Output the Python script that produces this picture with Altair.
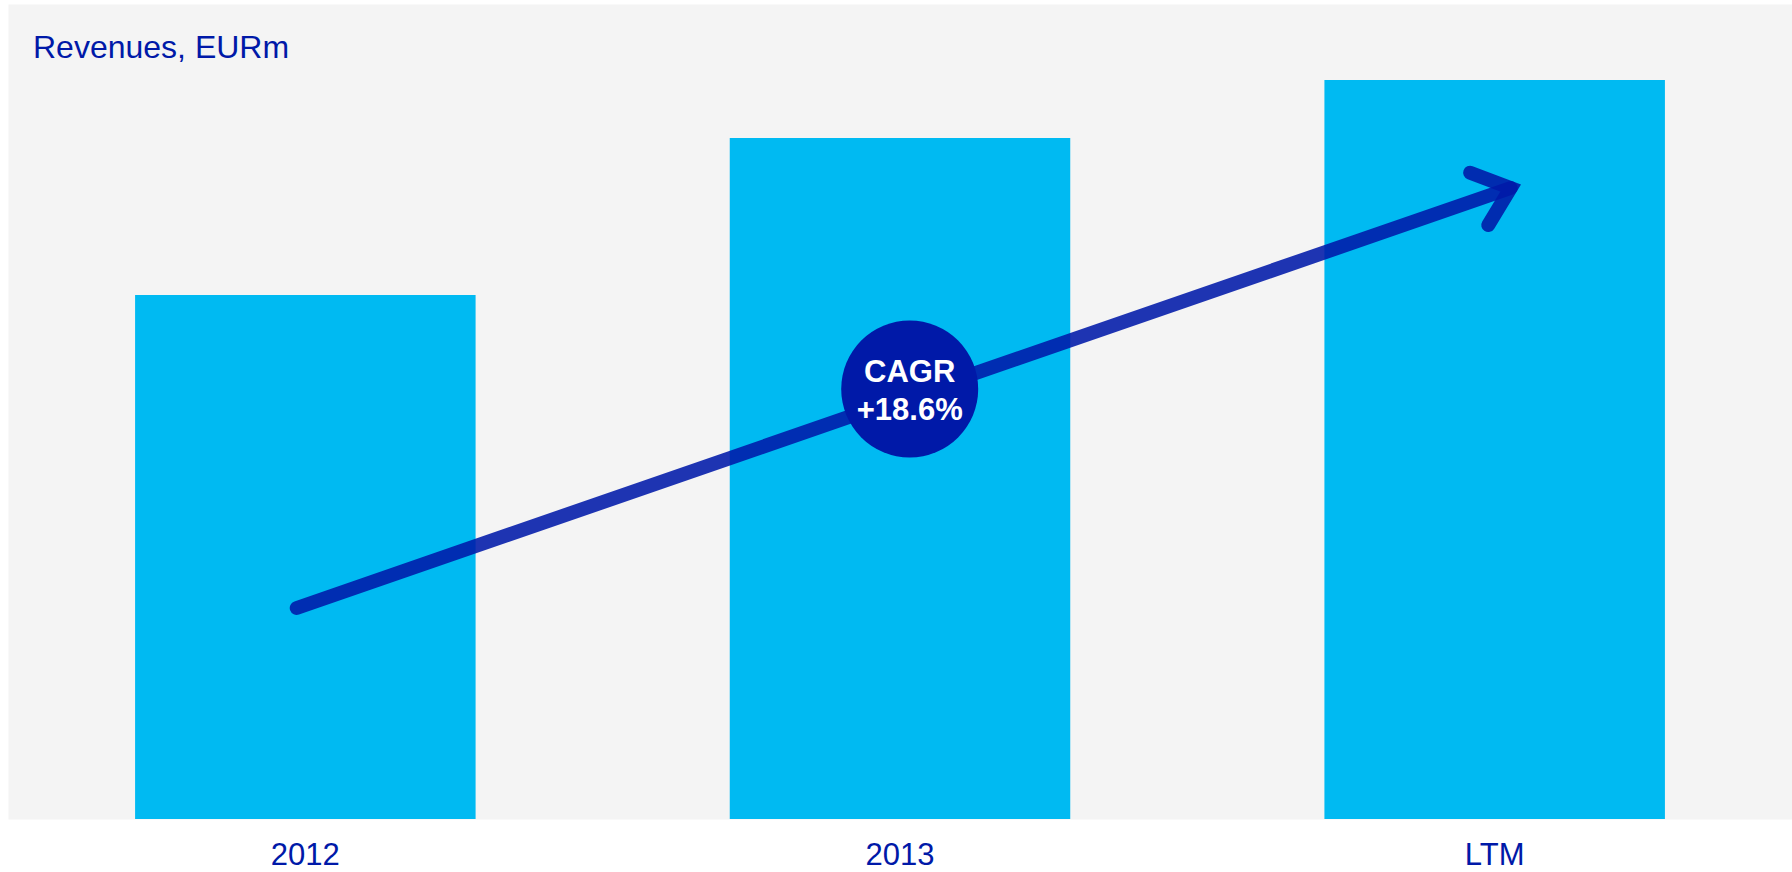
import altair as alt
import pandas as pd

# ---- data ----
categories = ["2012", "2013", "LTM"]
revenues = [52.4, 68.1, 73.9]          # EURm (relative heights)
arrow_from = ["2012"]
arrow_to = ["LTM"]
arrow_start = [21.1]
arrow_end = [63.1]
cagr_cat = ["2013"]
cagr_value = [43.0]
cagr_text = ["CAGR", "+18.6%"]
title_text = ["Revenues, EURm"]

DARK = "#0019A8"
LIGHT = "#00BAF2"
FONT = "Liberation Sans"

bars_df = pd.DataFrame({"cat": categories, "value": revenues})
arrow_df = pd.DataFrame({"cat": arrow_from, "cat2": arrow_to, "y0": arrow_start, "y1": arrow_end})
tip_df = pd.DataFrame({"cat": arrow_to, "y1": arrow_end})
cagr_df = pd.DataFrame({"cat": cagr_cat, "value": cagr_value})
title_df = pd.DataFrame({"t": title_text})

x_scale = alt.Scale(domain=categories, paddingInner=0.4274, paddingOuter=0.2137)
y_scale = alt.Scale(domain=[0, 81.5], nice=False, zero=True)
x_axis = alt.Axis(title=None, domain=False, ticks=False, grid=False, labelAngle=0,
                  labelFont=FONT, labelFontSize=31, labelColor=DARK,
                  labelPadding=45, labelBaseline="alphabetic")

X = lambda f="cat:N": alt.X(f, scale=x_scale, axis=x_axis)

bars = alt.Chart(bars_df).mark_bar(color=LIGHT).encode(
    x=X(), y=alt.Y("value:Q", scale=y_scale, axis=None)
)

shaft = alt.Chart(arrow_df).mark_rule(
    color=DARK, opacity=0.88, strokeWidth=14, strokeCap="round",
    xOffset=-8.6, x2Offset=16
).encode(
    x=X(), x2="cat2:N",
    y=alt.Y("y0:Q", scale=y_scale, axis=None), y2="y1:Q"
)

head = alt.Chart(tip_df).mark_point(
    shape="M-1,-0.832L0,0L-1,0.832", filled=False, size=4436, angle=340.93,
    color=DARK, opacity=0.88, strokeWidth=14, strokeCap="round", strokeJoin="miter",
    xOffset=16
).encode(
    x=X(), y=alt.Y("y1:Q", scale=y_scale, axis=None)
)

circle = alt.Chart(cagr_df).mark_point(
    shape="circle", filled=True, size=18769, color=DARK, opacity=1, xOffset=9.7
).encode(
    x=X(), y=alt.Y("value:Q", scale=y_scale, axis=None)
)

circle_text = alt.Chart(cagr_df).mark_text(
    text=cagr_text, font=FONT, fontSize=31, fontWeight="bold", color="white",
    lineHeight=38, align="center", baseline="middle", xOffset=9.7, dy=-16
).encode(
    x=X(), y=alt.Y("value:Q", scale=y_scale, axis=None)
)

title = alt.Chart(title_df).mark_text(
    align="left", baseline="alphabetic", font=FONT, fontSize=32, color=DARK
).encode(
    x=alt.value(25), y=alt.value(54), text="t:N"
)

chart = alt.layer(bars, shaft, head, circle, circle_text, title).properties(
    width=1784, height=815,
    padding={"left": 8, "top": 4, "right": 0, "bottom": 52},
    autosize=alt.AutoSizeParams(type="none"),
    background="white",
).configure_view(fill="#F4F4F4", stroke="transparent")

chart.save("out.html", embed_options={"renderer": "svg", "actions": False})
